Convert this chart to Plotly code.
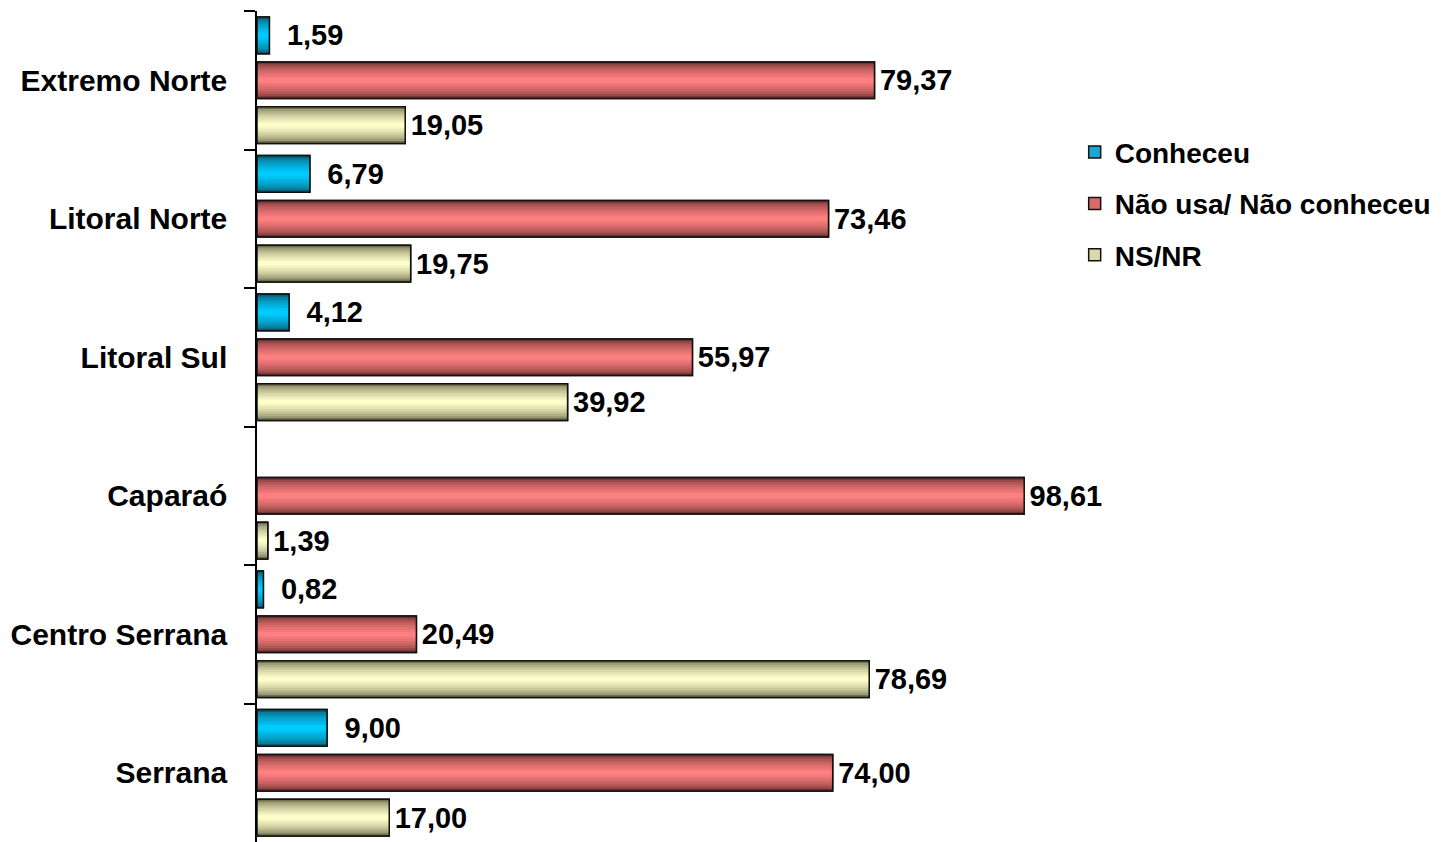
import plotly.graph_objects as go

categories = ["Extremo Norte", "Litoral Norte", "Litoral Sul", "Caparaó", "Centro Serrana", "Serrana"]
conheceu = [1.59, 6.79, 4.12, None, 0.82, 9.00]
nao_usa = [79.37, 73.46, 55.97, 98.61, 20.49, 74.00]
ns_nr = [19.05, 19.75, 39.92, 1.39, 78.69, 17.00]
series_names = ["Conheceu", "Não usa/ Não conheceu", "NS/NR"]
series_values = [conheceu, nao_usa, ns_nr]

# edge (dark) -> center (light) colours, plus a mid tone for the legend swatch
palettes = [
    ("#0b5a72", "#00ccff", "#1aa6d0"),
    ("#6e3232", "#ff8080", "#d86a6a"),
    ("#6f6f4f", "#ffffcc", "#d8d8a8"),
]
label_pad = ["\u2002", "\u200a", "\u200a"]

FONT = "Liberation Sans, Arial, sans-serif"
FSIZE = 29


def hex2rgb(h):
    h = h.lstrip("#")
    return tuple(int(h[i:i + 2], 16) for i in (0, 2, 4))


def mix(a, b, t):
    ra, rb = hex2rgb(a), hex2rgb(b)
    return "rgb(%d,%d,%d)" % tuple(round(ra[i] + (rb[i] - ra[i]) * t) for i in range(3))


def fmt(v, pad):
    return "" if v is None else pad + ("%.2f" % v).replace(".", ",")


bargap = 0.03
slot = (1 - bargap) / 3
bw = slot * 0.82
n_layers = 8

fig = go.Figure()
for i, (name, vals) in enumerate(zip(series_names, series_values)):
    edge, center, legend_col = palettes[i]
    center_off = -0.5 + bargap / 2 + slot * (i + 0.5)
    # legend carrier (fully covered by the shading layers)
    fig.add_trace(go.Bar(
        y=categories, x=vals, orientation="h", name=name, legendgroup=name,
        width=bw, offset=center_off - bw / 2,
        marker=dict(color=legend_col, line=dict(color="#111111", width=1.5)),
        showlegend=True, hoverinfo="skip",
    ))
    # shading layers: dark edges to light centre
    for k in range(n_layers):
        w = bw * (1 - k / n_layers)
        t = k / (n_layers - 1)
        col = mix(edge, center, t ** 0.6)
        fig.add_trace(go.Bar(
            y=categories, x=vals, orientation="h", name=name, legendgroup=name,
            width=w, offset=center_off - w / 2,
            marker=dict(color=col, line=dict(width=0)),
            showlegend=False, hoverinfo="skip",
        ))
    # outline + value labels
    fig.add_trace(go.Bar(
        y=categories, x=vals, orientation="h", name=name, legendgroup=name,
        width=bw, offset=center_off - bw / 2,
        marker=dict(color="rgba(0,0,0,0)", line=dict(color="#111111", width=1.5)),
        text=[fmt(v, label_pad[i]) for v in vals], textposition="outside",
        textfont=dict(family=FONT, size=FSIZE, color="#000000", weight="bold"),
        cliponaxis=False, showlegend=False,
    ))

fig.update_layout(
    width=1447, height=834,
    barmode="overlay",
    plot_bgcolor="white", paper_bgcolor="white",
    margin=dict(l=249, r=420, t=3, b=0, autoexpand=False),
    font=dict(family=FONT, size=FSIZE, color="#000000", weight="bold"),
    xaxis=dict(range=[0, 100], visible=False, fixedrange=True, automargin=False),
    yaxis=dict(type="category", categoryorder="array", categoryarray=categories,
               autorange="reversed", showline=True, linecolor="#000000", linewidth=1.5,
               ticks="outside", ticklen=11, tickcolor="#000000", tickwidth=1.5,
               tickson="boundaries", showgrid=False, ticklabelstandoff=22,
               automargin=False,
               tickfont=dict(family=FONT, size=30, color="#000000", weight="bold")),
    legend=dict(x=1.051, y=0.86, xanchor="left", yanchor="top",
                font=dict(family=FONT, size=28, color="#000000", weight="bold"),
                bgcolor="rgba(0,0,0,0)", itemwidth=30, tracegroupgap=12),
    showlegend=True,
)

fig.write_html("out.html")
